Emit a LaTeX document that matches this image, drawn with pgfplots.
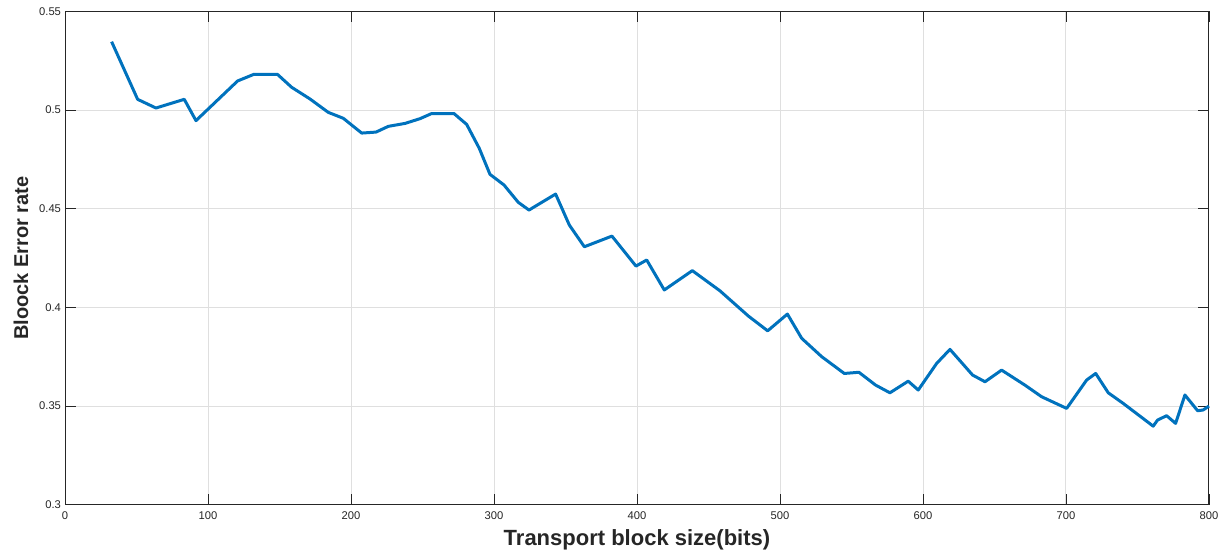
\documentclass[border=0pt]{standalone}
\usepackage{fontspec}
\setmainfont{Liberation Sans}
\usepackage{pgfplots}
\pgfplotsset{compat=1.18}
\definecolor{mblue}{RGB}{0,114,189}
\definecolor{axgray}{RGB}{38,38,38}
\definecolor{gridgray}{RGB}{223,223,223}
\begin{document}
\begin{tikzpicture}[x=1pt,y=1pt]
\useasboundingbox (-65,-45.3) rectangle (1157,504.7);
\begin{axis}[
  scale only axis,
  width=1144pt, height=493.4pt,
  xmin=0, xmax=800, ymin=0.3, ymax=0.55,
  xtick={0,100,...,800},
  ytick={0.3,0.35,0.4,0.45,0.5,0.55},
  yticklabels={0.3,0.35,0.4,0.45,0.5,0.55},
  /pgf/number format/assume math mode=true,
  tick align=inside,
  major tick length=11pt,
  tick style={axgray, line width=0.8pt},
  axis line style={axgray, line width=0.9pt},
  grid=major,
  major grid style={gridgray, line width=0.9pt},
  ticklabel style={font=\fontsize{11.2}{13}\selectfont, text=axgray},
  xticklabel style={yshift=-3.5pt},
  yticklabel style={xshift=-0.5pt},
  xlabel={\textbf{Transport block size(bits)}},
  ylabel={\textbf{Bloock Error rate}},
  xlabel style={font=\fontsize{22}{24}\selectfont, text=axgray, yshift=-3pt},
  ylabel style={font=\fontsize{20}{24}\selectfont, text=axgray, yshift=4pt},
  clip=false,
]
\addplot[mblue, line width=3pt, line join=round] coordinates {
(32.6,0.5346) (50.8,0.5054) (63.6,0.5010) (83.4,0.5054) (91.6,0.4946)
(120.7,0.5147) (132.2,0.5181) (148.5,0.5181) (158.5,0.5115) (171.3,0.5056)
(184.1,0.4988) (194.6,0.4958) (207.5,0.4883) (217.5,0.4888) (226.1,0.4917)
(237.8,0.4932) (248.3,0.4956) (256.4,0.4982) (272.0,0.4982) (280.9,0.4927)
(289.7,0.4806) (297.2,0.4674) (307.0,0.4620) (317.0,0.4532) (324.5,0.4493)
(343.1,0.4574) (352.7,0.4417) (363.2,0.4307) (382.5,0.4361) (399.3,0.4209)
(406.8,0.4240) (419.1,0.4088) (438.7,0.4186) (458.0,0.4084) (477.9,0.3956)
(491.4,0.3881) (505.2,0.3966) (515.2,0.3843) (529.2,0.3750) (545.0,0.3665)
(555.2,0.3671) (566.9,0.3606) (576.9,0.3567) (589.7,0.3626) (596.7,0.3581)
(609.6,0.3716) (618.9,0.3787) (634.7,0.3657) (643.4,0.3623) (655.0,0.3682)
(671.3,0.3606) (683.0,0.3547) (700.5,0.3488) (714.5,0.3632) (720.8,0.3665)
(729.6,0.3567) (740.1,0.3513) (761.0,0.3398) (764.1,0.3429) (770.4,0.3451)
(776.7,0.3412) (783.2,0.3556) (792.1,0.3476) (796.0,0.3480) (800.0,0.3500)
};
\end{axis}
\end{tikzpicture}
\end{document}
